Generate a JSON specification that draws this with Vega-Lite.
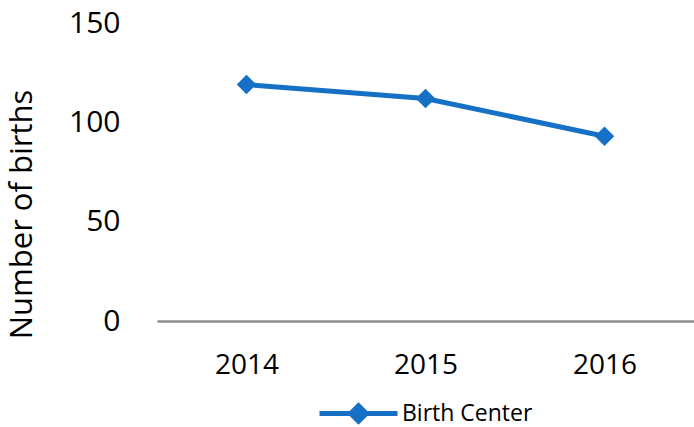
{
  "$schema": "https://vega.github.io/schema/vega-lite/v6.json",
  "width": 537,
  "height": 298,
  "autosize": {"type": "none"},
  "padding": {"left": 157, "top": 23, "right": 0, "bottom": 106},
  "background": "white",
  "config": {
    "view": {"stroke": null},
    "font": "Open Sans"
  },
  "data": {
    "values": [
      {"year": "2014", "births": 119, "series": "Birth Center"},
      {"year": "2015", "births": 112, "series": "Birth Center"},
      {"year": "2016", "births": 93, "series": "Birth Center"}
    ]
  },
  "mark": {
    "type": "line",
    "strokeWidth": 5,
    "point": {"shape": "diamond", "size": 380, "filled": true, "opacity": 1}
  },
  "encoding": {
    "x": {
      "field": "year",
      "type": "ordinal",
      "scale": {"type": "point", "padding": 0.5},
      "axis": {
        "title": null,
        "labelAngle": 0,
        "labelFontSize": 28,
        "labelColor": "#000000",
        "labelPadding": 30,
        "ticks": false,
        "domainColor": "#8c8c8c",
        "domainWidth": 2.5,
        "grid": false
      }
    },
    "y": {
      "field": "births",
      "type": "quantitative",
      "scale": {"domain": [0, 150], "nice": false},
      "axis": {
        "values": [0, 50, 100, 150],
        "title": "Number of births",
        "titleFontSize": 31,
        "titleFontWeight": "normal",
        "titleColor": "#000000",
        "titleAngle": -90,
        "titleX": -135,
        "titleY": 191,
        "titleAlign": "center",
        "titleBaseline": "middle",
        "labelFontSize": 30,
        "labelColor": "#000000",
        "labelPadding": 37,
        "domain": false,
        "ticks": false,
        "grid": false
      }
    },
    "color": {
      "field": "series",
      "type": "nominal",
      "scale": {"range": ["#1570C6"]},
      "legend": {
        "title": null,
        "orient": "none",
        "legendX": 160,
        "legendY": 349,
        "symbolType": "M-1,0L1,0M0,-0.2L0.2,0L0,0.2L-0.2,0Z",
        "symbolSize": 6084,
        "symbolStrokeWidth": 5,
        "symbolFillColor": "#1570C6",
        "symbolStrokeColor": "#1570C6",
        "labelFontSize": 23,
        "labelColor": "#000000",
        "labelOffset": 2,
        "labelLimit": 300
      }
    }
  }
}
